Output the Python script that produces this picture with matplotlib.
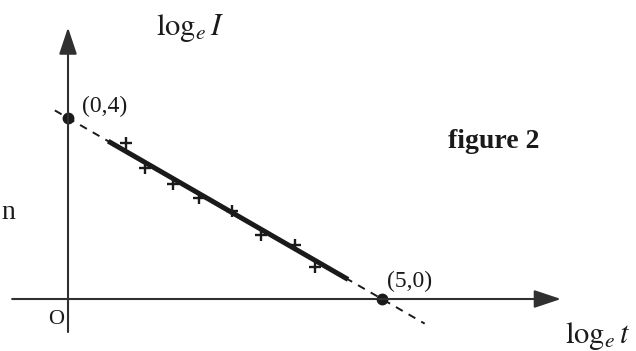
import matplotlib
matplotlib.use('Agg')
import matplotlib.pyplot as plt
import numpy as np

plt.rcParams['font.family'] = ['Liberation Serif', 'DejaVu Serif']
plt.rcParams['mathtext.fontset'] = 'stix'

# measured points (log_e t, log_e I)
cross_x = [0.92, 1.23, 1.67, 2.09, 2.61, 3.07, 3.61, 3.93]
cross_y = [3.45, 2.90, 2.54, 2.23, 1.94, 1.41, 1.19, 0.71]

# intercepts of the fitted line
intercept_x = [0, 5]
intercept_y = [4, 0]
intercept_labels = ['(0,4)', '(5,0)']

# extent of the solid fit and the dashed extension
fit_range = [0.64, 4.46]
dash_range = [-0.21, 5.68]

ink = '#1a1a1a'

fig = plt.figure(figsize=(6.36, 3.51), dpi=100)
ax = fig.add_axes([0, 0, 1, 1])
ax.set_xlim(-1.083, 9.045)
ax.set_ylim(-1.149, 6.608)
ax.axis('off')

# axes with arrows
arrow = dict(arrowstyle='-|>,head_length=0.75,head_width=0.25', mutation_scale=22,
             lw=1.5, color='#303030', shrinkA=0, shrinkB=0)
ax.annotate('', xy=(7.85, 0), xytext=(-0.89, 0), arrowprops=arrow)
ax.annotate('', xy=(0, 6.0), xytext=(0, -0.73), arrowprops=arrow)

# line through the two intercepts
slope = (intercept_y[1] - intercept_y[0]) / (intercept_x[1] - intercept_x[0])
line = lambda x: intercept_y[0] + slope * np.asarray(x)

ax.plot(dash_range, line(dash_range), ls=(0, (4, 3.5)), lw=1.4, color=ink)
ax.plot(fit_range, line(fit_range), lw=3.6, color=ink, solid_capstyle='butt')
ax.plot(cross_x, cross_y, ls='none', marker='+', ms=8, mew=1.7, color=ink)
ax.plot(intercept_x, intercept_y, ls='none', marker='o', ms=7.5, color=ink)

# labels
ax.text(0.22, 4.26, intercept_labels[0], fontsize=17, color=ink, ha='left', va='center')
ax.text(5.08, 0.38, intercept_labels[1], fontsize=17, color=ink, ha='left', va='center')
ax.text(1.94, 6.0, r'$\log_e I$', fontsize=22, color=ink, ha='center', va='center')
ax.text(7.91, -0.82, r'$\log_e t$', fontsize=22, color=ink, ha='left', va='center')
ax.text(6.78, 3.49, 'figure 2', fontsize=20, fontweight='bold', color=ink, ha='center', va='center')
ax.text(-0.84, 1.92, 'n', fontsize=20, color=ink, ha='right', va='center')
ax.text(-0.19, -0.46, 'O', fontsize=16, color=ink, ha='center', va='center')

fig.savefig('out.png', dpi=100, facecolor='white')
